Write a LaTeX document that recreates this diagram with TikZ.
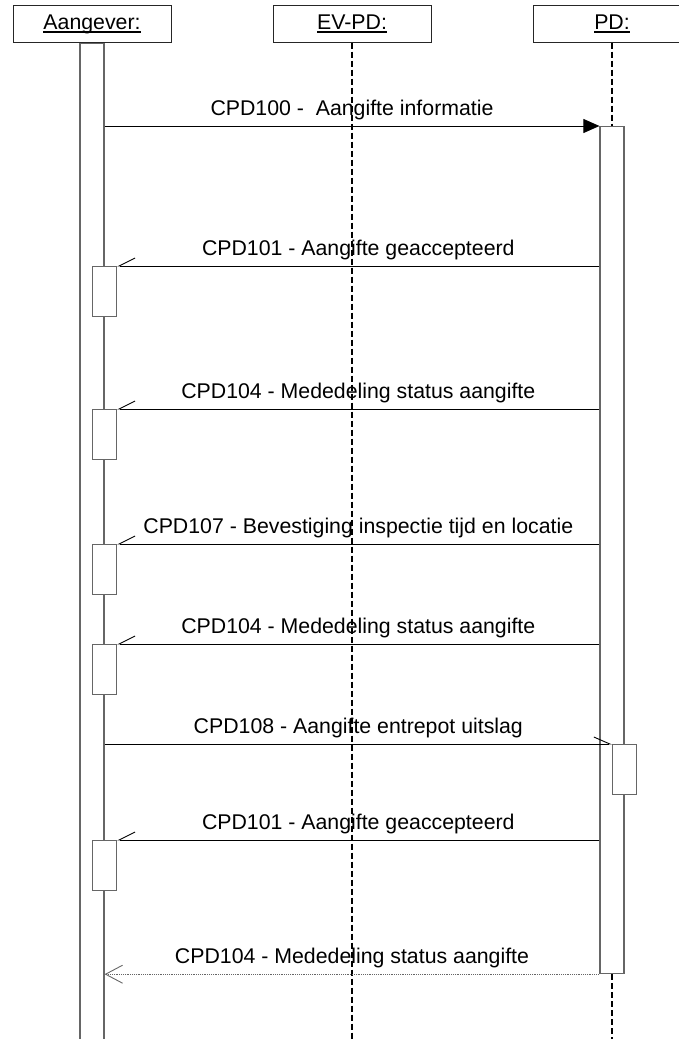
\documentclass[tikz,border=0pt]{standalone}
\usepackage{fontspec}
\setmainfont{Liberation Sans}
\usetikzlibrary{arrows.meta}
\newcommand{\hdul}[1]{\setbox0\hbox{#1}\rlap{\rule[-3.5pt]{\wd0}{1.5pt}}\box0}

\begin{document}
\begin{tikzpicture}[x=1pt, y=-1pt,
    head/.style={draw=black!85, line width=1pt, fill=white, minimum width=158pt, minimum height=37pt, inner sep=0pt, font=\fontsize{21.3}{25}\selectfont},
    bar/.style={draw=black!60, line width=1.2pt, fill=white, minimum width=24pt, inner sep=0pt, anchor=north},
    act/.style={draw=black!60, line width=1.2pt, fill=white, minimum width=24pt, minimum height=50pt, inner sep=0pt, anchor=north west},
    life/.style={line width=1.6pt, dash pattern=on 6pt off 3pt},
    lbl/.style={anchor=base, yshift=11pt, inner sep=0pt, font=\fontsize{21.3}{25}\selectfont},
    call/.style={line width=0.9pt, -{Triangle[length=16pt, width=14pt]}},
    ret/.style={line width=0.9pt, -{Straight Barb[right, length=16pt, width=16pt, line width=0.9pt]}},
    async/.style={line width=0.9pt, -{Straight Barb[left, length=16pt, width=14pt, line width=0.9pt]}},
    reply/.style={draw=black!60, line width=1.2pt, densely dotted, -{Straight Barb[length=17pt, width=18pt, line width=0.9pt]}}]
    \useasboundingbox (0,0) rectangle (679,1039);
    \clip (0,0) rectangle (679,1039);

    \node[head] (ag) at (92,24) {\hdul{Aangever:}};
    \node[head] (ev) at (352,23.5) {\hdul{EV-PD:}};
    \node[head] (pd) at (612,23.5) {\hdul{PD:}};

    \draw[life] (ev.south) -- (ev.south |- 0,1045);

    \node[bar, minimum height=1010pt] (agb) at (ag.south) {};
    \node[bar, minimum height=847pt] (pdb) at (612,126) {};
    \draw[life] (pd.south) -- (pdb.north);
    \draw[life] (pdb.south) -- (pdb.south |- 0,1045);

    \node[act] (r1) at (92,266) {};
    \node[act] (r2) at (92,409) {};
    \node[act] (r3) at (92,544) {};
    \node[act] (r4) at (92,644) {};
    \node[act] (c1) at (612,744) {};
    \node[act] (r5) at (92,840) {};

    \coordinate (s1) at (agb.east |- 0,126);
    \coordinate (s6) at (agb.east |- c1.north);
    \coordinate (e8) at (agb.east |- pdb.south);
    \coordinate (p1) at (pdb.west |- r1.north);
    \coordinate (p2) at (pdb.west |- r2.north);
    \coordinate (p3) at (pdb.west |- r3.north);
    \coordinate (p4) at (pdb.west |- r4.north);
    \coordinate (p5) at (pdb.west |- r5.north);

    \draw[call] (s1) -- node[lbl] {CPD100 -\ \ Aangifte informatie} (pdb.north west);
    \draw[ret] (p1) -- node[lbl] {CPD101 - Aangifte geaccepteerd} (r1.north east);
    \draw[ret] (p2) -- node[lbl] {CPD104 - Mededeling status aangifte} (r2.north east);
    \draw[ret] (p3) -- node[lbl] {CPD107 - Bevestiging inspectie tijd en locatie} (r3.north east);
    \draw[ret] (p4) -- node[lbl] {CPD104 - Mededeling status aangifte} (r4.north east);
    \draw[async] (s6) -- node[lbl] {CPD108 - Aangifte entrepot uitslag} (c1.north west);
    \draw[ret] (p5) -- node[lbl] {CPD101 - Aangifte geaccepteerd} (r5.north east);
    \draw[reply] (pdb.south west) -- node[lbl] {CPD104 - Mededeling status aangifte} (e8);
\end{tikzpicture}
\end{document}
